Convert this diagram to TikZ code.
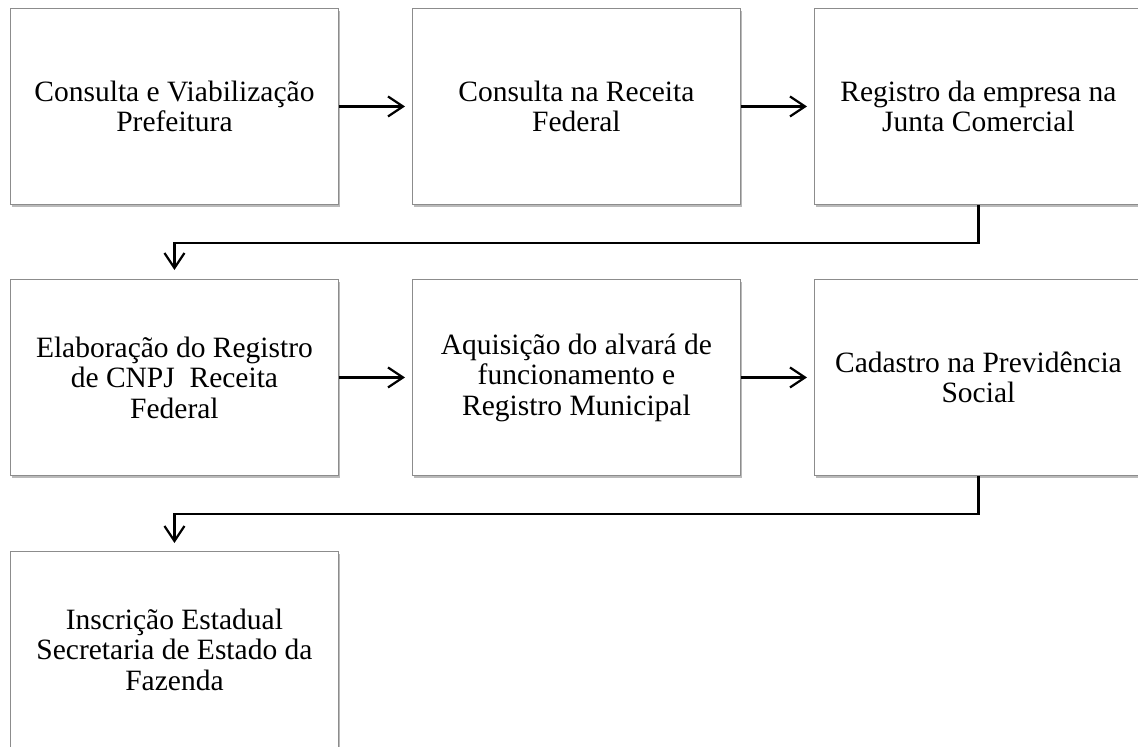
\documentclass[tikz,border=0pt]{standalone}
\usepackage{fontspec}
\setmainfont{Liberation Serif}
\usetikzlibrary{arrows.meta,shadows}
\begin{document}
\begin{tikzpicture}[x=1pt,y=-1pt,
  stepbox/.style={draw=black!45, line width=0.9pt, fill=white, minimum width=328pt, minimum height=196pt,
    anchor=north west, align=center, inner sep=0pt,
    font=\fontsize{29.5}{30.5}\selectfont,
    drop shadow={shadow xshift=1.5pt, shadow yshift=-2.5pt, opacity=0.45, fill=black!60}},
  conn/.style={line width=2.4pt, -{Straight Barb[length=15pt,width=20pt,line width=2.2pt]}}
]
\useasboundingbox (0,0) rectangle (1138,747);
\fill[white] (0,0) rectangle (1138,747);
\begin{scope}
\clip (0,0) rectangle (1138,747);
\node[stepbox] (b1) at (10,8) {Consulta e Viabilização\\Prefeitura};
\node[stepbox] (b2) at (412,8) {Consulta na Receita\\Federal};
\node[stepbox] (b3) at (814,8) {Registro da empresa na\\Junta Comercial};
\node[stepbox] (b4) at (10,279) {Elaboração do Registro\\de CNPJ\ \ Receita\\Federal};
\node[stepbox] (b5) at (412,279) {Aquisição do alvará de\\funcionamento e\\Registro Municipal};
\node[stepbox] (b6) at (814,279) {Cadastro na Previdência\\Social};
\node[stepbox] (b7) at (10,551) {Inscrição Estadual\\Secretaria de Estado da\\Fazenda};

\draw[conn, shorten >=7pt] (b1.east) -- (b2.west);
\draw[conn, shorten >=7pt] (b2.east) -- (b3.west);
\draw[conn, shorten >=7pt] (b4.east) -- (b5.west);
\draw[conn, shorten >=7pt] (b5.east) -- (b6.west);
\draw[conn, shorten >=9pt] (b3.south) -- ++(0,38) -| (b4.north);
\draw[conn, shorten >=8pt] (b6.south) -- ++(0,38) -| (b7.north);
\end{scope}
\end{tikzpicture}
\end{document}
